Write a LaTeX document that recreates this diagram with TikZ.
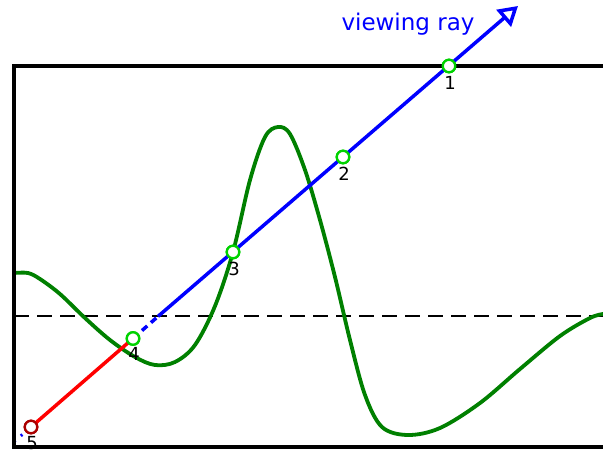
\documentclass[tikz,border=0pt]{standalone}
\usepackage{fontspec}
\setmainfont{DejaVu Sans}
\usetikzlibrary{arrows.meta}
\definecolor{curvegreen}{RGB}{0,128,0}
\definecolor{markgreen}{RGB}{0,210,0}
\definecolor{markred}{RGB}{170,0,0}
\tikzset{
  frameline/.style={line width=3.5pt, black},
  rayline/.style={line width=3.5pt, blue},
  hitpt/.style={circle, draw=markgreen, line width=2.3pt, fill=white, minimum size=12.5pt, inner sep=0pt},
  misspt/.style={circle, draw=markred, line width=2.3pt, fill=white, minimum size=12.5pt, inner sep=0pt},
  ptlabel/.style={font=\fontsize{18}{18}\selectfont, text=black, inner sep=0pt}
}
\begin{document}
\begin{tikzpicture}[x=1pt,y=-1pt]
\useasboundingbox (0,0) rectangle (603,451);
% coordinates
\coordinate (rs) at (14,441.7);
\coordinate (dashend) at (158,316.4);
\coordinate (tip) at (518,6);
\coordinate (fTL) at (14,66);
\coordinate (fBL) at (14,447);
\coordinate (fTR) at (603,66);
\coordinate (fBR) at (603,447);
\coordinate (hL) at (14,316);
\coordinate (hR) at (603,316);
% dashed horizontal
\draw[line width=1.7pt, dash pattern=on 15pt off 8pt] (hL) -- (hR);
% curve
\draw[curvegreen, line width=3.8pt] plot[smooth, tension=0.55] coordinates {
(14,273) (28,273) (40,279) (60,294) (85,318) (110,340) (135,357) (155,365)
(175,362) (195,345) (215,306) (233,252) (250,180) (265,137) (278,127)
(290,134) (305,170) (320,220) (335,277) (350,340) (365,395) (382,427)
(408,435) (440,428) (480,403) (520,369) (560,336) (590,318) (603,314)};
% points
\node[hitpt] (p1) at (449,66) {};
\node[hitpt] (p2) at (343,157) {};
\node[hitpt] (p3) at (233,252) {};
\node[hitpt] (p4) at (133,338.5) {};
\node[misspt] (p5) at (31,427) {};
% ray
\draw[blue, line width=3pt, dash pattern=on 2pt off 7pt] (rs) -- (p5.center);
\draw[red, line width=3.5pt] (p5.center) -- (p4.center);
\draw[rayline, dash pattern=on 7pt off 5pt] (p4.center) -- (dashend);
\draw[rayline, -{Triangle[open, length=19pt, width=22pt, line width=3.5pt]}] (dashend) -- (tip);
% labels
\node[ptlabel] (l1) at (450,83) {1};
\node[ptlabel] (l2) at (344,174) {2};
\node[ptlabel] (l3) at (234,269) {3};
\node[ptlabel] (l4) at (134,354) {4};
\node[ptlabel] (l5) at (32,443) {5};
% frame
\draw[frameline] (fTR) -- (fTL) -- (fBL) -- (fBR);
% markers on top
\node[hitpt] at (p1) {};
\node[hitpt] at (p2) {};
\node[hitpt] at (p3) {};
\node[hitpt] at (p4) {};
\node[misspt] at (p5) {};
\node[font=\fontsize{23}{23}\selectfont, text=blue, inner sep=0pt] (vr) at (408,24) {viewing ray};
\end{tikzpicture}
\end{document}
